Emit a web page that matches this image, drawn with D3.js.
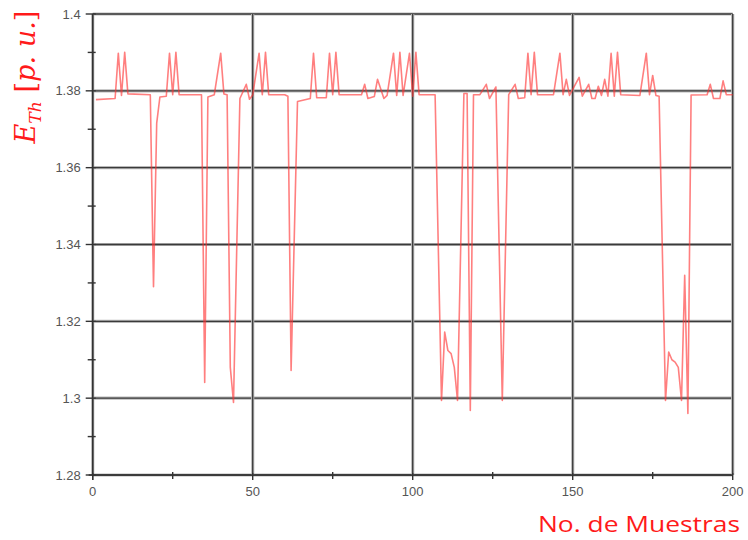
<!DOCTYPE html>
<html>
<head>
<meta charset="utf-8">
<script src="https://cdn.jsdelivr.net/npm/d3@7"></script>
<style>
  html, body { margin: 0; padding: 0; background: #fff; }
  svg { display: block; }
</style>
</head>
<body>
<svg id="chart" width="748" height="540"></svg>
<script>
// Sample number and Thevenin voltage (p.u.)
const sampleNo = [1,7,8,9,10,11,18,19,20,21,23,24,25,26,27,34,35,36,38,40,41,42,43,44,46,48,49,50,52,53,54,55,60,61,62,64,68,69,70,73,74,75,76,77,84,85,86,88,89,91,92,94,95,96,97,99,100,101,102,107,109,110,111,112,113,114,116,117,118,119,121,123,124,126,128,130,132,133,135,136,137,138,139,144,146,147,148,149,152,153,155,156,157,158,159,160,161,162,163,164,165,171,173,174,175,176,177,179,180,181,182,183,184,185,186,187,192,193,194,196,197,198,200];
const eth = [1.3777,1.3780,1.3898,1.3788,1.3900,1.3792,1.3790,1.3290,1.3716,1.3784,1.3786,1.3898,1.3790,1.3900,1.3790,1.3790,1.3041,1.3784,1.3790,1.3898,1.3792,1.3790,1.3080,1.2989,1.3780,1.3817,1.3778,1.3789,1.3898,1.3790,1.3900,1.3790,1.3790,1.3786,1.3072,1.3772,1.3780,1.3898,1.3782,1.3782,1.3898,1.3790,1.3900,1.3790,1.3790,1.3817,1.3780,1.3785,1.3830,1.3780,1.3788,1.3898,1.3788,1.3900,1.3788,1.3898,1.3786,1.3900,1.3790,1.3790,1.2994,1.3172,1.3124,1.3116,1.3080,1.2994,1.3793,1.3793,1.2968,1.3790,1.3790,1.3817,1.3780,1.3810,1.2994,1.3790,1.3817,1.3780,1.3782,1.3898,1.3790,1.3900,1.3790,1.3790,1.3898,1.3790,1.3830,1.3788,1.3835,1.3786,1.3817,1.3780,1.3780,1.3812,1.3788,1.3830,1.3786,1.3898,1.3786,1.3900,1.3790,1.3788,1.3898,1.3790,1.3840,1.3788,1.3786,1.2994,1.3120,1.3100,1.3094,1.3080,1.2994,1.3320,1.2960,1.3789,1.3790,1.3817,1.3780,1.3780,1.3826,1.3790,1.3790];

const xTicks = [0, 50, 100, 150, 200];
const xMinorTicks = [25, 75, 125, 175];
const yTicks = [1.28, 1.30, 1.32, 1.34, 1.36, 1.38, 1.40];
const yTickLabels = ["1.28", "1.3", "1.32", "1.34", "1.36", "1.38", "1.4"];
const yMinorTicks = [1.29, 1.31, 1.33, 1.35, 1.37, 1.39];

const svg = d3.select("#chart");
const plotLeft = 92.7, plotRight = 732.7, plotTop = 14, plotBottom = 475;

const x = d3.scaleLinear().domain([0, 200]).range([plotLeft, plotRight]);
const y = d3.scaleLinear().domain([1.28, 1.40]).range([plotBottom, plotTop]);

// Grid: soft grey halo under a dark core line
const grid = svg.append("g");
function gridLine(x1, y1, x2, y2) {
  grid.append("line").attr("x1", x1).attr("y1", y1).attr("x2", x2).attr("y2", y2)
    .attr("stroke", "#b8b8b8").attr("stroke-width", 3.2);
  grid.append("line").attr("x1", x1).attr("y1", y1).attr("x2", x2).attr("y2", y2)
    .attr("stroke", "#3a3a3a").attr("stroke-width", 1.3);
}
yTicks.forEach(v => gridLine(plotLeft, y(v), plotRight, y(v)));
xTicks.forEach(v => gridLine(x(v), plotTop, x(v), plotBottom));

// Axes with ticks crossing the axis lines
const yAxis = svg.append("g");
yAxis.append("line").attr("x1", plotLeft).attr("x2", plotLeft).attr("y1", plotTop).attr("y2", plotBottom + 5)
  .attr("stroke", "#333").attr("stroke-width", 1.4);
yTicks.forEach(v => {
  yAxis.append("line").attr("x1", plotLeft - 7).attr("x2", plotLeft + 3).attr("y1", y(v)).attr("y2", y(v))
    .attr("stroke", "#333").attr("stroke-width", 1.4);
});
yMinorTicks.forEach(v => {
  yAxis.append("line").attr("x1", plotLeft - 5).attr("x2", plotLeft + 3).attr("y1", y(v)).attr("y2", y(v))
    .attr("stroke", "#333").attr("stroke-width", 1.4);
});
yAxis.selectAll("text").data(yTicks).join("text")
  .attr("x", plotLeft - 12).attr("y", d => y(d) + 4.5)
  .attr("text-anchor", "end")
  .attr("font-family", "Liberation Sans, Arial, sans-serif")
  .attr("font-size", 13).attr("fill", "#555")
  .text((d, i) => yTickLabels[i]);

const xAxis = svg.append("g");
xAxis.append("line").attr("x1", plotLeft - 4).attr("x2", plotRight).attr("y1", plotBottom).attr("y2", plotBottom)
  .attr("stroke", "#333").attr("stroke-width", 1.4);
xTicks.forEach(v => {
  xAxis.append("line").attr("x1", x(v)).attr("x2", x(v)).attr("y1", plotBottom - 2).attr("y2", plotBottom + 5)
    .attr("stroke", "#333").attr("stroke-width", 1.4);
});
xMinorTicks.forEach(v => {
  xAxis.append("line").attr("x1", x(v)).attr("x2", x(v)).attr("y1", plotBottom - 3).attr("y2", plotBottom + 4)
    .attr("stroke", "#333").attr("stroke-width", 1.4);
});
xAxis.selectAll("text").data(xTicks).join("text")
  .attr("x", d => x(d)).attr("y", plotBottom + 21)
  .attr("text-anchor", "middle")
  .attr("font-family", "Liberation Sans, Arial, sans-serif")
  .attr("font-size", 13).attr("fill", "#555")
  .text(d => d);

// Thevenin voltage trace
const points = sampleNo.map((s, i) => [s, eth[i]]);
const line = d3.line().x(d => x(d[0])).y(d => y(d[1]));
svg.append("path").datum(points)
  .attr("d", line)
  .attr("fill", "none")
  .attr("stroke", "#ff3030")
  .attr("stroke-opacity", 0.62)
  .attr("stroke-width", 1.6)
  .attr("stroke-linejoin", "round");

// Axis titles
const yTitle = svg.append("text")
  .attr("transform", "translate(35,77) rotate(-90)")
  .attr("text-anchor", "middle")
  .attr("font-family", "DejaVu Serif, Liberation Serif, serif")
  .attr("font-size", 27).attr("fill", "#ff1a1a")
  .attr("textLength", 133).attr("lengthAdjust", "spacingAndGlyphs");
yTitle.append("tspan").attr("font-style", "italic").text("E");
yTitle.append("tspan").attr("font-style", "italic").attr("font-size", 17).attr("dy", 6).text("Th");
yTitle.append("tspan").attr("dy", -6).text(" [");
yTitle.append("tspan").attr("font-style", "italic").text("p. u.");
yTitle.append("tspan").text("]");

svg.append("text")
  .attr("x", 740).attr("y", 532)
  .attr("text-anchor", "end")
  .attr("font-family", "Open Sans, Liberation Sans, sans-serif")
  .attr("font-size", 22).attr("fill", "#ff1a1a")
  .attr("textLength", 202).attr("lengthAdjust", "spacingAndGlyphs")
  .text("No. de Muestras");
</script>
</body>
</html>
